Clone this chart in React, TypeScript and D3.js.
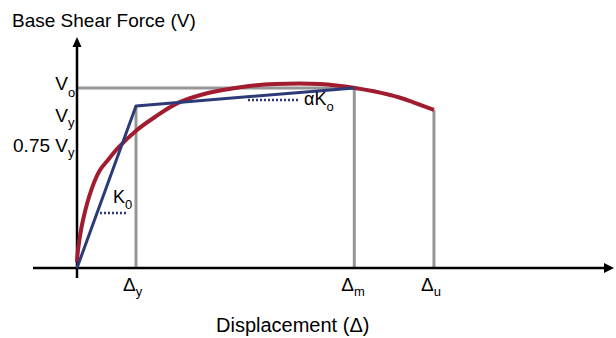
import React from "react";
import * as d3 from "d3";

// Capacity (pushover) curve, displacement in units of Δy, shear in units of Vo
const curveX = [0, 0.017, 0.102, 0.254, 0.39, 0.525, 0.695, 1.017, 1.322, 1.712, 2.22, 2.797, 3.356, 4.12, 4.71, 5.31, 5.69, 6.05];
const curveY = [0.033, 0.1, 0.267, 0.444, 0.544, 0.6, 0.667, 0.767, 0.839, 0.917, 0.972, 1.006, 1.022, 1.022, 1.0, 0.961, 0.922, 0.878];

// Idealised bilinear curve
const bilinearX = [0, 1, 4.7];
const bilinearY = [0, 0.9, 1.0];

// Displacement markers
const dispNames = ["y", "m", "u"];
const dispValues = [1, 4.7, 6.05];
const dispHeights = [0.9, 1.0, 0.878];

// Shear labels
const shearPrefix = ["", "", "0.75 "];
const shearSubs = ["o", "y", "y"];
const shearValues = [1.0, 0.9, 0.675];

const W = 616;
const H = 338;
const FONT = "'Liberation Sans', Arial, sans-serif";
const RED = "#a01c2e";
const BLUE = "#2c3a78";
const GRAY = "#969696";

export default function App() {
  const x = d3.scaleLinear().domain([0, 1]).range([77, 136]);
  const y = d3.scaleLinear().domain([0, 1]).range([268, 88]);

  const redPts: [number, number][] = curveX.map((v, i) => [v, curveY[i]]);
  const bluePts: [number, number][] = bilinearX.map((v, i) => [v, bilinearY[i]]);

  const line = d3
    .line<[number, number]>()
    .x((d) => x(d[0]))
    .y((d) => y(d[1]));
  const smooth = d3
    .line<[number, number]>()
    .x((d) => x(d[0]))
    .y((d) => y(d[1]))
    .curve(d3.curveCatmullRom.alpha(0.5));

  const x0 = x(0);
  const y0 = y(0);
  const xmax = 614;
  const ytop = 37;

  return (
    <svg
      width={W}
      height={H}
      style={{ position: "absolute", left: 0, top: 0, background: "#fff" }}
      fontFamily={FONT}
    >
      <rect width={W} height={H} fill="#fff" />
      {/* gray reference lines */}
      <line x1={x0} x2={x(bilinearX[2])} y1={y(1)} y2={y(1)} stroke={GRAY} strokeWidth={3} />
      {dispValues.map((v, i) => (
        <line key={i} x1={x(v)} x2={x(v)} y1={y0} y2={y(dispHeights[i])} stroke={GRAY} strokeWidth={3} />
      ))}

      {/* axes */}
      <line x1={33} x2={xmax - 8} y1={y0} y2={y0} stroke="#000" strokeWidth={2.5} />
      <path d={`M${xmax},${y0} L${xmax - 10},${y0 - 5} L${xmax - 10},${y0 + 5} Z`} fill="#000" />
      <line x1={x0} x2={x0} y1={ytop + 8} y2={278} stroke="#000" strokeWidth={2.5} />
      <path d={`M${x0},${ytop} L${x0 - 4.5},${ytop + 10} L${x0 + 4.5},${ytop + 10} Z`} fill="#000" />

      {/* curves */}
      <path d={smooth(redPts) || ""} fill="none" stroke={RED} strokeWidth={4} strokeLinejoin="round" />
      <path d={line(bluePts) || ""} fill="none" stroke={BLUE} strokeWidth={3} strokeLinejoin="round" />

      {/* stiffness indicators */}
      <line x1={100} x2={128} y1={213} y2={213} stroke={BLUE} strokeWidth={2.5} strokeDasharray="2,2" />
      <line x1={248} x2={299} y1={100} y2={100} stroke={BLUE} strokeWidth={2.5} strokeDasharray="2,2" />
      <text x={113} y={203} fontSize={18} fill="#000">
        K<tspan fontSize={13} dy={6}>0</tspan>
      </text>
      <text x={304} y={105} fontSize={18} fill="#000">
        αK<tspan fontSize={13} dy={6}>o</tspan>
      </text>

      {/* shear labels */}
      {shearValues.map((v, i) => (
        <text key={i} x={68} y={y(v) + (i === 0 ? 2 : i === 1 ? 16 : 5)} fontSize={19} textAnchor="end" fill="#000">
          {shearPrefix[i]}V
        </text>
      ))}
      {shearValues.map((v, i) => (
        <text key={"s" + i} x={68} y={y(v) + (i === 0 ? 9 : i === 1 ? 21 : 10)} fontSize={13} fill="#000">
          {shearSubs[i]}
        </text>
      ))}

      {/* displacement labels */}
      {dispValues.map((v, i) => (
        <text key={i} x={x(v) - 13} y={291} fontSize={19} fill="#000">
          Δ<tspan fontSize={13} dy={5}>{dispNames[i]}</tspan>
        </text>
      ))}

      {/* axis titles */}
      <text x={12} y={27} fontSize={19} fill="#000">Base Shear Force (V)</text>
      <text x={216} y={332} fontSize={20} fill="#000">Displacement (Δ)</text>
    </svg>
  );
}
